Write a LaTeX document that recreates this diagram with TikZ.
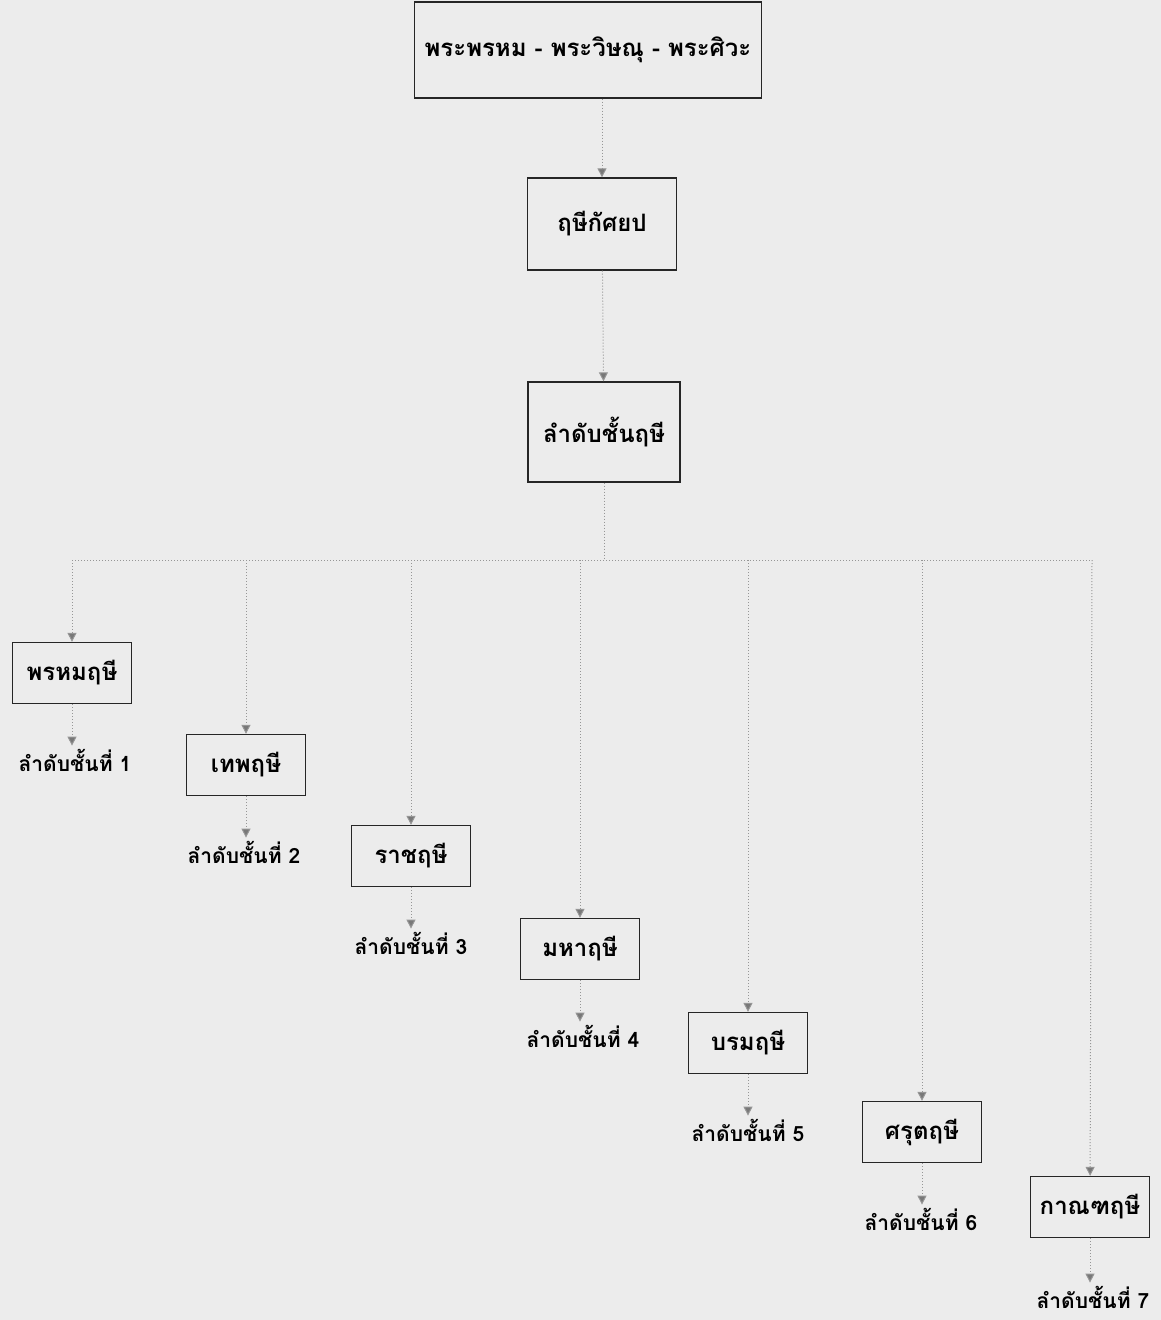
\documentclass[tikz,border=0pt]{standalone}
\usepackage{fontspec}
\setmainfont{Liberation Serif}
\newfontfamily\thaifont[Script=Thai]{Loma}
\usetikzlibrary{arrows.meta}
\definecolor{paper}{RGB}{236,236,236}
\definecolor{linkgray}{RGB}{150,150,150}
\tikzset{
  box/.style={draw=black!85,line width=1.3pt,fill=paper,inner sep=0pt,
    font=\thaifont\bfseries\fontsize{24}{28}\selectfont},
  leaf/.style={box,minimum width=119pt,minimum height=61pt},
  rank/.style={font=\thaifont\bfseries\fontsize{21}{24}\selectfont,inner sep=3pt},
  link/.style={draw=linkgray,dotted,line width=1pt,
    -{Triangle[width=9pt,length=9pt,fill=linkgray!80!black]}},
  trunk/.style={draw=linkgray,dotted,line width=1pt}
}

\begin{document}
\begin{tikzpicture}[x=1pt,y=-1pt]
    \fill[paper] (0,0) rectangle (1161,1320);
    \useasboundingbox (0,0) rectangle (1161,1320);

    % Gods and the first sage
    \node[box,minimum width=347pt,minimum height=96pt] (gods) at (588,50) {พระพรหม - พระวิษณุ - พระศิวะ};
    \node[box,minimum width=149pt,minimum height=92pt] (kasyapa) at (602,224) {ฤษีกัศยป};
    \node[box,minimum width=152pt,minimum height=100pt] (order) at (604,432) {ลำดับชั้นฤษี};
    \draw[link] (kasyapa |- gods.south) -- (kasyapa);
    \draw[link] (kasyapa) -- (order);

    % Split line
    \coordinate (split) at (604,560);
    \coordinate (s1) at (72,560);
    \coordinate (s7) at (1092,560);
    \draw[trunk] (order) -- (split);
    \draw[trunk] (s1) -- (s7);

    % Seven sages
    \node[leaf] (brahma) at (72,673) {พรหมฤษี};
    \node[leaf] (deva) at (246,765) {เทพฤษี};
    \node[leaf] (raja) at (411,856) {ราชฤษี};
    \node[leaf] (maha) at (580,949) {มหาฤษี};
    \node[leaf] (parama) at (748,1043) {บรมฤษี};
    \node[leaf] (sruta) at (922,1132) {ศรุตฤษี};
    \node[leaf] (kanda) at (1090,1207) {กาณฑฤษี};

    \draw[link] (s1) -- (brahma);
    \draw[link] (deva |- split) -- (deva);
    \draw[link] (raja |- split) -- (raja);
    \draw[link] (maha |- split) -- (maha);
    \draw[link] (parama |- split) -- (parama);
    \draw[link] (sruta |- split) -- (sruta);
    \draw[link] (s7) -- (kanda);

    % Ranks
    \node[rank] (r1) at (75,760) {ลำดับชั้นที่ 1};
    \node[rank] (r2) at (244,852) {ลำดับชั้นที่ 2};
    \node[rank] (r3) at (411,943) {ลำดับชั้นที่ 3};
    \node[rank] (r4) at (583,1036) {ลำดับชั้นที่ 4};
    \node[rank] (r5) at (748,1130) {ลำดับชั้นที่ 5};
    \node[rank] (r6) at (921,1219) {ลำดับชั้นที่ 6};
    \node[rank] (r7) at (1093,1297) {ลำดับชั้นที่ 7};
    \draw[link] (brahma) -- (brahma |- r1.north);
    \draw[link] (deva) -- (deva |- r2.north);
    \draw[link] (raja) -- (raja |- r3.north);
    \draw[link] (maha) -- (maha |- r4.north);
    \draw[link] (parama) -- (parama |- r5.north);
    \draw[link] (sruta) -- (sruta |- r6.north);
    \draw[link] (kanda) -- (kanda |- r7.north);
\end{tikzpicture}
\end{document}
